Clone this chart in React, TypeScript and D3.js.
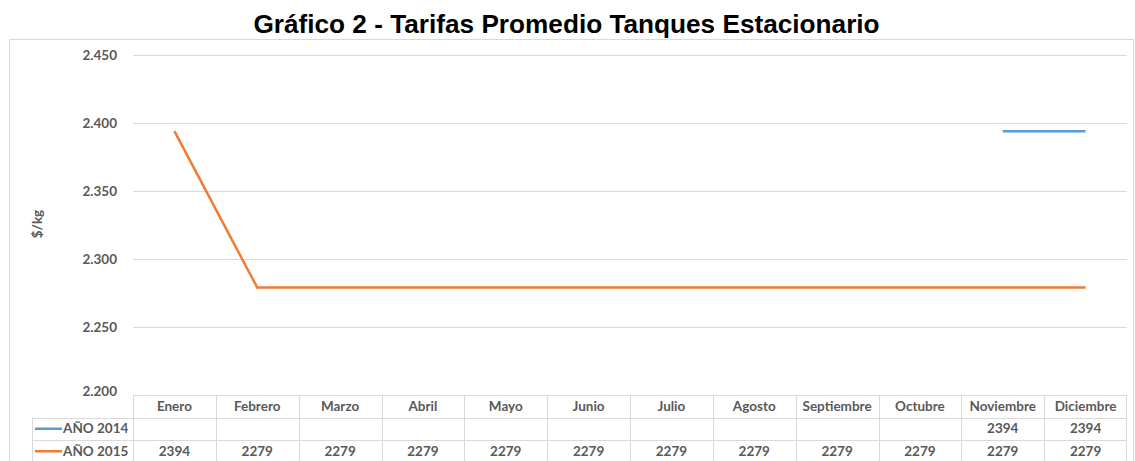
import React from "react";
import * as d3 from "d3";

const months = ["Enero","Febrero","Marzo","Abril","Mayo","Junio","Julio","Agosto","Septiembre","Octubre","Noviembre","Diciembre"];
const values2014: (number | null)[] = [null,null,null,null,null,null,null,null,null,null,2394,2394];
const values2015: (number | null)[] = [2394,2279,2279,2279,2279,2279,2279,2279,2279,2279,2279,2279];
const yTicks = [2200, 2250, 2300, 2350, 2400, 2450];
const seriesNames = ["AÑO 2014", "AÑO 2015"];
const seriesColors = ["#5B9BD5", "#ED7D31"];
const title = "Gráfico 2 - Tarifas Promedio Tanques Estacionario";
const yTitle = "$/kg";

const W = 1135, H = 461;
const plotL = 133, plotR = 1127, plotT = 55, plotB = 395;
const rowH = 22.5;
const tableL = 32;
const font = "Lato, 'Open Sans', sans-serif";
const gray = "#595959";
const fs = 13.5;

export default function App() {
  const x = d3.scaleBand<string>().domain(months).range([plotL, plotR]);
  const y = d3.scaleLinear().domain([2200, 2450]).range([plotB, plotT]);
  const fmt = (v: number) => d3.format(",")(v).replace(",", ".");
  const series = [values2014, values2015];
  const line = d3.line<number | null>()
    .defined((d) => d != null)
    .x((_, i) => (x(months[i]) as number) + x.bandwidth() / 2)
    .y((d) => y(d as number));
  const rowTop = (r: number) => plotB + r * rowH;
  const tableB = plotB + 3 * rowH;
  return (
    <svg width={W} height={H} style={{ position: "absolute", left: 0, top: 0 }}>
      <rect x={0} y={0} width={W} height={H} fill="#fff" />
      <rect x={9.5} y={39.5} width={1124} height={H} fill="#fff" stroke="#D9D9D9" />
      <text x={566.5} y={33} textAnchor="middle" fontFamily="'Liberation Sans', Arial, sans-serif" fontWeight="bold" fontSize={26.2} fill="#000">{title}</text>
      {yTicks.slice(1).map((t) => (
        <line key={t} x1={plotL} x2={plotR} y1={Math.round(y(t)) + 0.5} y2={Math.round(y(t)) + 0.5} stroke="#D9D9D9" strokeWidth={1} />
      ))}
      {yTicks.map((t) => (
        <text key={t} x={117} y={y(t)} dy={t === 2200 ? "0.05em" : "0.35em"} textAnchor="end" fontFamily={font} fontWeight="bold" fontSize={fs} fill={gray}>{fmt(t)}</text>
      ))}
      <text transform={`translate(42,${(plotT + plotB) / 2 - 1}) rotate(-90)`} textAnchor="middle" fontFamily={font} fontWeight="bold" fontSize={fs} fill={gray}>{yTitle}</text>
      {series.map((s, i) => (
        <path key={i} d={line(s) || ""} fill="none" stroke={seriesColors[i]} strokeWidth={2.5} strokeLinejoin="round" />
      ))}
      <g stroke="#D9D9D9" strokeWidth={1}>
        <line x1={plotL} x2={plotR} y1={rowTop(0) + 0.5} y2={rowTop(0) + 0.5} />
        <line x1={tableL} x2={plotR} y1={Math.round(rowTop(1)) + 0.5} y2={Math.round(rowTop(1)) + 0.5} />
        <line x1={tableL} x2={plotR} y1={Math.round(rowTop(2)) + 0.5} y2={Math.round(rowTop(2)) + 0.5} />
        <line x1={tableL} x2={plotR} y1={Math.round(tableB) + 0.5} y2={Math.round(tableB) + 0.5} />
        <line x1={tableL + 0.5} x2={tableL + 0.5} y1={rowTop(1)} y2={tableB} />
        {months.map((m) => (
          <line key={m} x1={Math.round(x(m) as number) + 0.5} x2={Math.round(x(m) as number) + 0.5} y1={rowTop(0)} y2={tableB} />
        ))}
        <line x1={plotR - 0.5} x2={plotR - 0.5} y1={rowTop(0)} y2={tableB} />
      </g>
      {months.map((m) => (
        <text key={m} x={(x(m) as number) + x.bandwidth() / 2} y={rowTop(0) + rowH / 2} dy="0.35em" textAnchor="middle" fontFamily={font} fontWeight="bold" fontSize={fs} fill={gray}>{m}</text>
      ))}
      {series.map((s, i) => (
        <g key={i}>
          <line x1={tableL + 3} x2={tableL + 30} y1={rowTop(i + 1) + rowH / 2} y2={rowTop(i + 1) + rowH / 2} stroke={seriesColors[i]} strokeWidth={2.5} />
          <text x={tableL + 31} y={rowTop(i + 1) + rowH / 2} dy="0.35em" fontFamily={font} fontWeight="bold" fontSize={fs} fill={gray}>{seriesNames[i]}</text>
          {s.map((v, j) => v == null ? null : (
            <text key={j} x={(x(months[j]) as number) + x.bandwidth() / 2} y={rowTop(i + 1) + rowH / 2} dy="0.35em" textAnchor="middle" fontFamily={font} fontWeight="bold" fontSize={fs} fill={gray}>{v}</text>
          ))}
        </g>
      ))}
    </svg>
  );
}
